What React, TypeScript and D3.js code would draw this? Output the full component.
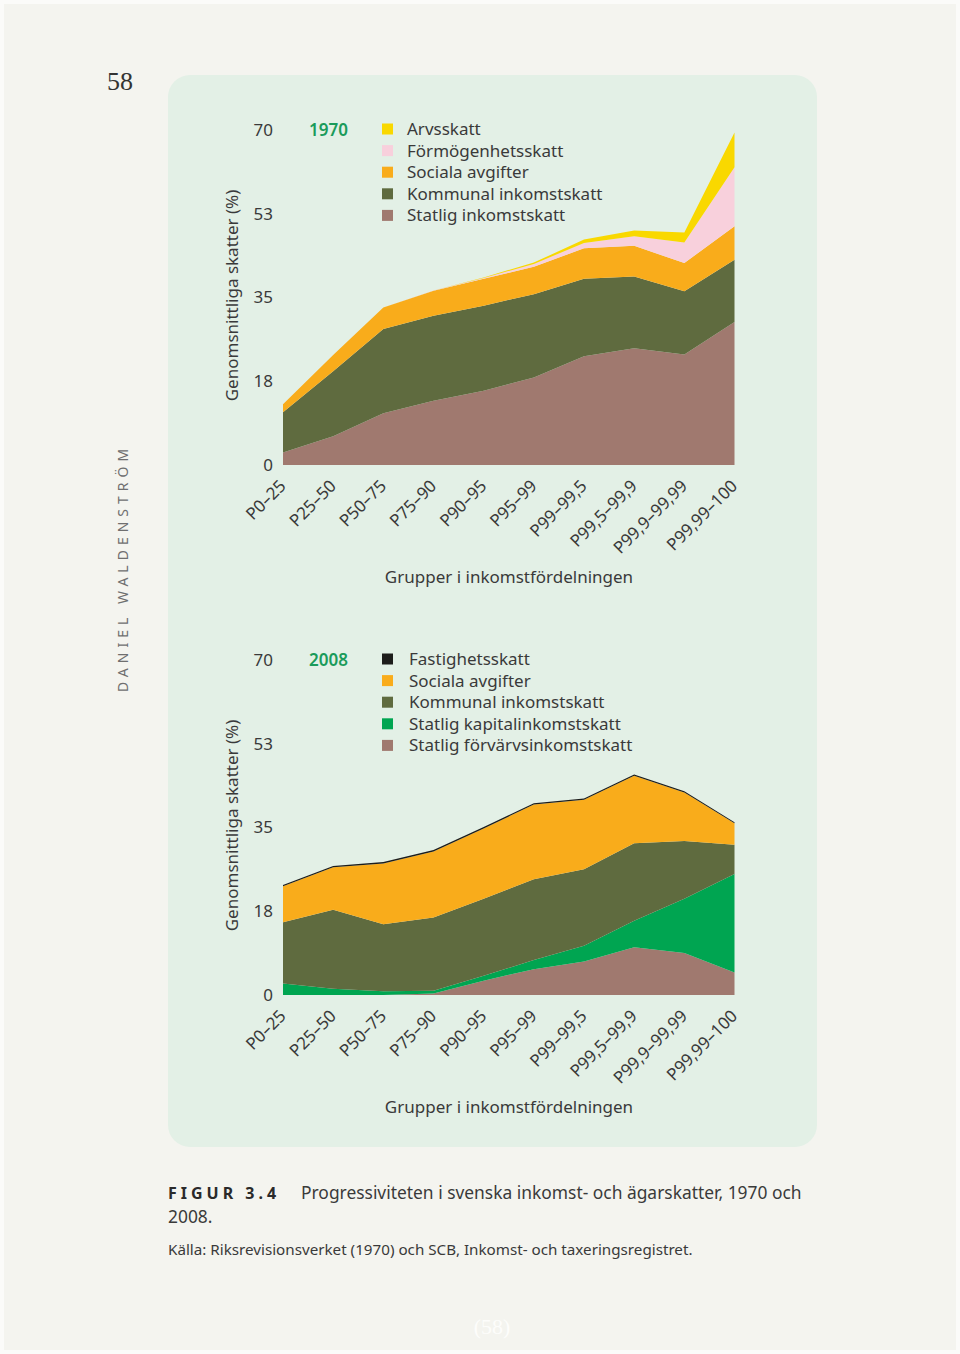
import * as d3 from 'd3';

// ---- data ----
const categories = [
  'P0–25', 'P25–50', 'P50–75', 'P75–90', 'P90–95',
  'P95–99', 'P99–99,5', 'P99,5–99,9', 'P99,9–99,99', 'P99,99–100',
];

const yTicks = [0, 17.5, 35, 52.5, 70];
const yTickLabels = ['0', '18', '35', '53', '70'];

// 1970 (percent of income)
const statlig1970 = [2.6, 6.0, 10.8, 13.4, 15.5, 18.3, 22.7, 24.4, 23.1, 29.9];
const kommunal1970 = [8.4, 13.6, 17.6, 17.8, 17.8, 17.4, 16.2, 15.0, 13.2, 13.0];
const sociala1970 = [1.7, 3.4, 4.5, 5.2, 5.6, 5.7, 6.4, 6.4, 5.9, 7.0];
const formogenhet1970 = [0, 0, 0, 0.05, 0.2, 0.6, 1.1, 2.0, 4.3, 12.3];
const arvs1970 = [0, 0, 0, 0.02, 0.1, 0.3, 0.7, 1.2, 2.1, 7.3];

// 2008
const forvarv2008 = [0, 0, 0, 0.3, 3.0, 5.4, 7.0, 10.0, 8.8, 4.7];
const kapital2008 = [2.4, 1.3, 0.8, 0.6, 1.0, 1.9, 3.3, 5.5, 11.3, 20.6];
const kommunal2008 = [12.8, 16.5, 14.0, 15.3, 16.1, 16.9, 16.0, 16.2, 12.1, 6.1];
const sociala2008 = [7.5, 8.9, 12.7, 13.8, 14.7, 15.6, 14.5, 14.1, 10.1, 4.5];
const fastighet2008 = [0.3, 0.25, 0.3, 0.3, 0.3, 0.25, 0.25, 0.3, 0.25, 0.2];

interface Series {
  key: string;
  label: string;
  color: string;
  values: number[];
}

// stacking order: bottom -> top
const series1970: Series[] = [
  { key: 'statlig', label: 'Statlig inkomstskatt', color: '#a0796f', values: statlig1970 },
  { key: 'kommunal', label: 'Kommunal inkomstskatt', color: '#5f6b3f', values: kommunal1970 },
  { key: 'sociala', label: 'Sociala avgifter', color: '#f9ac1b', values: sociala1970 },
  { key: 'formogenhet', label: 'Förmögenhetsskatt', color: '#f8d0dc', values: formogenhet1970 },
  { key: 'arvs', label: 'Arvsskatt', color: '#f9d800', values: arvs1970 },
];

const series2008: Series[] = [
  { key: 'forvarv', label: 'Statlig förvärvsinkomstskatt', color: '#a0796f', values: forvarv2008 },
  { key: 'kapital', label: 'Statlig kapitalinkomstskatt', color: '#00a551', values: kapital2008 },
  { key: 'kommunal', label: 'Kommunal inkomstskatt', color: '#5f6b3f', values: kommunal2008 },
  { key: 'sociala', label: 'Sociala avgifter', color: '#f9ac1b', values: sociala2008 },
  { key: 'fastighet', label: 'Fastighetsskatt', color: '#1d1d1b', values: fastighet2008 },
];

const FONT = '"Noto Sans", "DejaVu Sans", sans-serif';
const TEXT = '#3a3a3a';

function StackChart({
  series, year, top, legendX, textX,
}: { series: Series[]; year: string; top: number; legendX: number; textX: number }) {
  const y0 = top + 335;
  const x = d3.scalePoint<string>().domain(categories).range([283, 734.5]);
  const y = d3.scaleLinear().domain([0, 70]).range([y0, top]);

  const rows = categories.map((c, i) => {
    const r: Record<string, any> = { cat: c };
    series.forEach((s) => (r[s.key] = s.values[i]));
    return r;
  });
  const stacked = d3.stack<Record<string, any>>().keys(series.map((s) => s.key))(rows);
  const area = d3
    .area<d3.SeriesPoint<Record<string, any>>>()
    .x((d) => x(d.data.cat) as number)
    .y0((d) => y(d[0]))
    .y1((d) => y(d[1]))
    .curve(d3.curveLinear);

  const legend = [...series].reverse();

  return (
    <g fontFamily={FONT}>
      {stacked.map((layer, i) => (
        <path key={layer.key} d={area(layer) || ''} fill={series[i].color} />
      ))}
      {yTicks.map((t, i) => (
        <text key={t} x={273} y={y(t)} dy="0.35em" textAnchor="end" fontSize={17} fill={TEXT}>
          {yTickLabels[i]}
        </text>
      ))}
      <text
        transform={`translate(232,${(y(0) + y(70)) / 2 - 2}) rotate(-90)`}
        textAnchor="middle"
        dy="0.35em"
        fontSize={17}
        fill={TEXT}
      >
        Genomsnittliga skatter (%)
      </text>
      {categories.map((c) => (
        <text
          key={c}
          transform={`translate(${(x(c) as number) + 4},${y0 + 22}) rotate(-45)`}
          textAnchor="end"
          fontSize={17}
          fill={TEXT}
        >
          {c}
        </text>
      ))}
      <text x={509} y={y0 + 118} textAnchor="middle" fontSize={17} fill={TEXT}>
        Grupper i inkomstfördelningen
      </text>
      <text x={legendX - 73} y={top} dy="0.35em" fontSize={17} fontWeight={600} fill="#1b9b5b">
        {year}
      </text>
      {legend.map((s, i) => (
        <g key={s.key} transform={`translate(0,${top - 1 + i * 21.6})`}>
          <rect x={legendX} y={-5.5} width={11} height={11} fill={s.color} />
          <text x={textX} dy="0.35em" fontSize={17} fill={TEXT}>
            {s.label}
          </text>
        </g>
      ))}
    </g>
  );
}

export default function App() {
  return (
    <svg
      width={960}
      height={1354}
      style={{ position: 'absolute', left: 0, top: 0 }}
    >
      <rect width={960} height={1354} fill="#fbfbf9" />
      <rect x={4} y={4} width={952} height={1346} fill="#f4f4ef" />
      <rect x={168} y={75} width={649} height={1072} rx={22} fill="#e3f0e6" />

      <text x={107} y={90} fontFamily='"Liberation Serif", "DejaVu Serif", serif' fontSize={26} fill="#333">
        58
      </text>
      <text
        transform="translate(128,568) rotate(-90)"
        textAnchor="middle"
        fontFamily={FONT}
        fontSize={14}
        letterSpacing={5}
        fill="#6f6f6f"
      >
        DANIEL WALDENSTRÖM
      </text>

      <StackChart series={series1970} year="1970" top={130} legendX={382} textX={407} />
      <StackChart series={series2008} year="2008" top={660} legendX={382} textX={409} />

      <g fontFamily={FONT} fill={TEXT}>
        <text x={168} y={1199} fontSize={16} fontWeight={700} letterSpacing={4} fill="#2a2a2a">
          FIGUR 3.4
        </text>
        <text x={301} y={1199} fontSize={17.4}>
          Progressiviteten i svenska inkomst- och ägarskatter, 1970 och
        </text>
        <text x={168} y={1223} fontSize={17.4}>
          2008.
        </text>
        <text x={168} y={1255} fontSize={15.2}>
          Källa: Riksrevisionsverket (1970) och SCB, Inkomst- och taxeringsregistret.
        </text>
      </g>
      <text x={492} y={1334} textAnchor="middle" fontFamily='"Liberation Serif", serif' fontSize={22} fill="#fdfdfb">
        (58)
      </text>
    </svg>
  );
}
